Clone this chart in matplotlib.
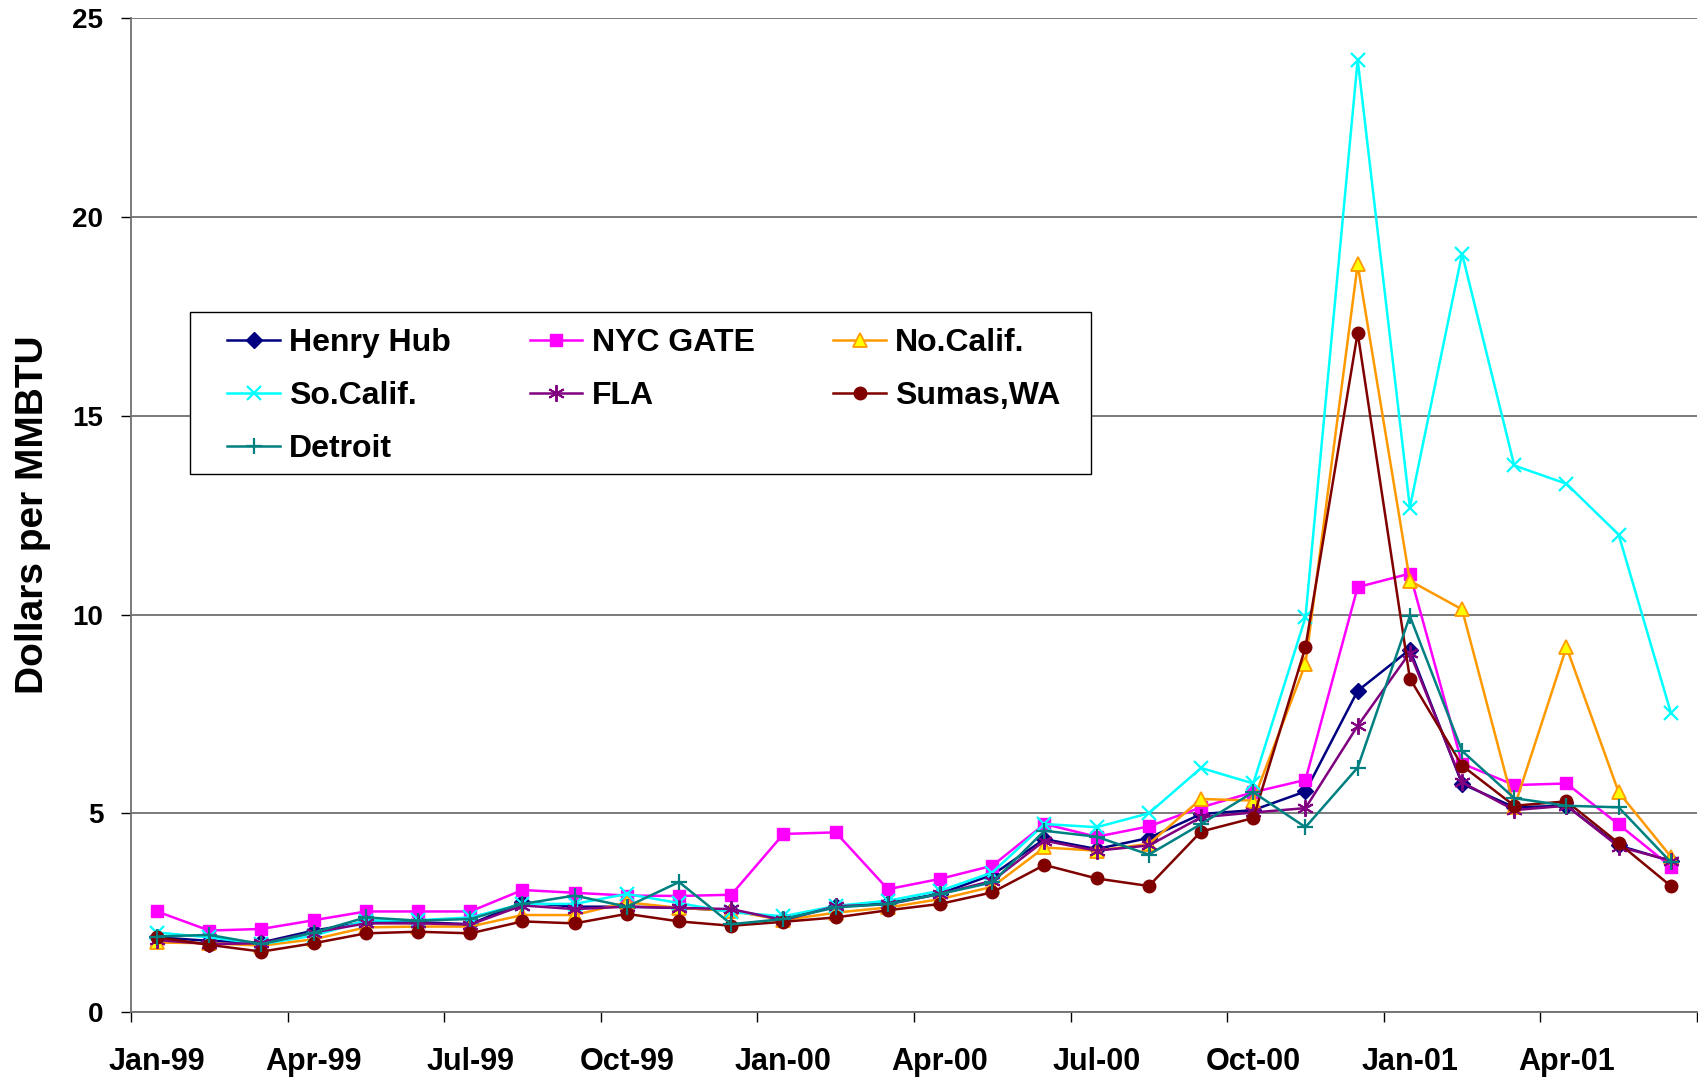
import matplotlib
matplotlib.use("Agg")
import matplotlib.pyplot as plt
from matplotlib.patches import Rectangle
from matplotlib.ticker import FixedLocator, NullFormatter, FixedFormatter

months = ["Jan-99", "Feb-99", "Mar-99", "Apr-99", "May-99", "Jun-99", "Jul-99", "Aug-99",
          "Sep-99", "Oct-99", "Nov-99", "Dec-99", "Jan-00", "Feb-00", "Mar-00", "Apr-00",
          "May-00", "Jun-00", "Jul-00", "Aug-00", "Sep-00", "Oct-00", "Nov-00", "Dec-00",
          "Jan-01", "Feb-01", "Mar-01", "Apr-01", "May-01", "Jun-01"]

henry_hub = [1.88, 1.79, 1.75, 2.05, 2.26, 2.26, 2.21, 2.76, 2.65, 2.65, 2.62, 2.55, 2.34, 2.66, 2.74,
             2.98, 3.45, 4.35, 4.10, 4.38, 4.98, 5.08, 5.55, 8.08, 9.12, 5.74, 5.15, 5.19, 4.19, 3.80]
nyc_gate = [2.53, 2.05, 2.09, 2.31, 2.53, 2.53, 2.53, 3.07, 3.00, 2.93, 2.92, 2.95, 4.48, 4.52, 3.09,
            3.35, 3.68, 4.73, 4.41, 4.67, 5.15, 5.53, 5.84, 10.69, 11.03, 6.25, 5.71, 5.75, 4.72, 3.66]
no_calif = [1.75, 1.73, 1.67, 1.83, 2.13, 2.15, 2.15, 2.44, 2.44, 2.76, 2.62, 2.55, 2.31, 2.50, 2.63,
            2.84, 3.15, 4.14, 4.06, 4.23, 5.36, 5.32, 8.76, 18.81, 10.85, 10.13, 5.15, 9.18, 5.53, 3.91]
so_calif = [2.00, 1.88, 1.71, 1.92, 2.30, 2.31, 2.38, 2.72, 2.72, 2.97, 2.74, 2.51, 2.41, 2.67, 2.80,
            3.05, 3.51, 4.73, 4.65, 5.00, 6.14, 5.75, 9.93, 23.96, 12.69, 19.08, 13.75, 13.29, 12.01, 7.53]
fla = [1.81, 1.71, 1.73, 2.00, 2.23, 2.23, 2.20, 2.68, 2.59, 2.65, 2.62, 2.59, 2.31, 2.66, 2.71,
       2.97, 3.30, 4.31, 4.06, 4.19, 4.90, 5.02, 5.13, 7.20, 9.04, 5.78, 5.08, 5.19, 4.16, 3.81]
sumas_wa = [1.88, 1.69, 1.52, 1.73, 1.98, 2.02, 1.98, 2.28, 2.23, 2.47, 2.28, 2.17, 2.27, 2.38, 2.56,
            2.72, 3.01, 3.70, 3.36, 3.17, 4.54, 4.88, 9.18, 17.09, 8.39, 6.20, 5.19, 5.30, 4.25, 3.17]
detroit = [1.90, 1.94, 1.71, 2.00, 2.38, 2.30, 2.34, 2.72, 2.93, 2.65, 3.27, 2.21, 2.34, 2.63, 2.72,
           2.97, 3.26, 4.56, 4.41, 3.96, 4.73, 5.53, 4.65, 6.15, 9.96, 6.57, 5.38, 5.19, 5.15, 3.77]

series_names = ["Henry Hub", "NYC GATE", "No.Calif.", "So.Calif.", "FLA", "Sumas,WA", "Detroit"]
y_ticks = [0, 5, 10, 15, 20, 25]

font = ["Liberation Sans", "DejaVu Sans"]

fig = plt.figure(figsize=(16.99, 10.78), dpi=100)
ax = fig.add_axes([0.0771, 0.0612, 0.9217, 0.9218])

x = list(range(len(months)))
styles = [
    dict(color="#000080", marker="D", ms=8, mfc="#000080", mec="#000080"),
    dict(color="#FF00FF", marker="s", ms=9, mfc="#FF00FF", mec="#FF00FF"),
    dict(color="#FF9900", marker="^", ms=10, mfc="#FFFF00", mec="#FF9900", mew=1.3),
    dict(color="#00FFFF", marker="x", ms=10, mfc="#00FFFF", mec="#00FFFF", mew=1.6),
    dict(color="#800080", marker=(6, 2, 0), ms=12, mfc="#800080", mec="#800080", mew=1.4),
    dict(color="#800000", marker="o", ms=9, mfc="#800000", mec="#800000"),
    dict(color="#008080", marker="+", ms=12, mfc="#008080", mec="#008080", mew=1.6),
]
data = [henry_hub, nyc_gate, no_calif, so_calif, fla, sumas_wa, detroit]
handles = []
for name, vals, st in zip(series_names, data, styles):
    h, = ax.plot(x, vals, lw=1.8, label=name, zorder=3, clip_on=False, **st)
    handles.append(h)

ax.set_xlim(-0.5, len(months) - 0.5)
ax.set_ylim(0, 25)

ax.yaxis.grid(True, color="#707070", lw=1.3)
ax.set_axisbelow(True)
for s in ["top", "right"]:
    ax.spines[s].set_visible(False)
for s in ["left", "bottom"]:
    ax.spines[s].set_color("#707070")
    ax.spines[s].set_linewidth(1.3)

ax.set_yticks(y_ticks)
ax.set_yticklabels([str(v) for v in y_ticks], fontsize=20, fontweight="bold", family=font)
ax.tick_params(axis="y", direction="out", length=7, width=1, colors="black", pad=13)

bounds = [i - 0.5 for i in range(0, len(months) + 1, 3)]
ax.xaxis.set_major_locator(FixedLocator(bounds))
ax.xaxis.set_major_formatter(NullFormatter())
lab_pos = list(range(0, len(months), 3))
ax.xaxis.set_minor_locator(FixedLocator(lab_pos))
ax.xaxis.set_minor_formatter(FixedFormatter([months[i] for i in lab_pos]))
ax.tick_params(axis="x", which="major", direction="out", length=7, width=1, color="black")
ax.tick_params(axis="x", which="minor", length=0, pad=25)
for lbl in ax.xaxis.get_minorticklabels():
    lbl.set_fontsize(22)
    lbl.set_fontweight("bold")
    lbl.set_family(font)

ax.set_ylabel("Dollars per MMBTU", fontsize=28, fontweight="bold", family=font)
ax.yaxis.set_label_coords(-0.051, 0.5)

# legend frame
fig.add_artist(Rectangle((0.1116, 0.5607), 0.6422 - 0.1116, 0.7105 - 0.5607,
                         transform=fig.transFigure, facecolor="white",
                         edgecolor="black", lw=1.0, zorder=4))

order = [0, 3, 6, 1, 4, 2, 5]
leg = fig.legend([handles[i] for i in order], [series_names[i] for i in order],
                 ncol=3, loc="upper left", bbox_to_anchor=(0.1339, 0.6955),
                 bbox_transform=fig.transFigure, frameon=False, borderpad=0,
                 borderaxespad=0,
                 prop=dict(family=font, weight="bold", size=23),
                 handlelength=1.63, handletextpad=0.3, columnspacing=2.47,
                 labelspacing=0.714)
leg.set_zorder(5)

fig.savefig("out.png", dpi=100)
